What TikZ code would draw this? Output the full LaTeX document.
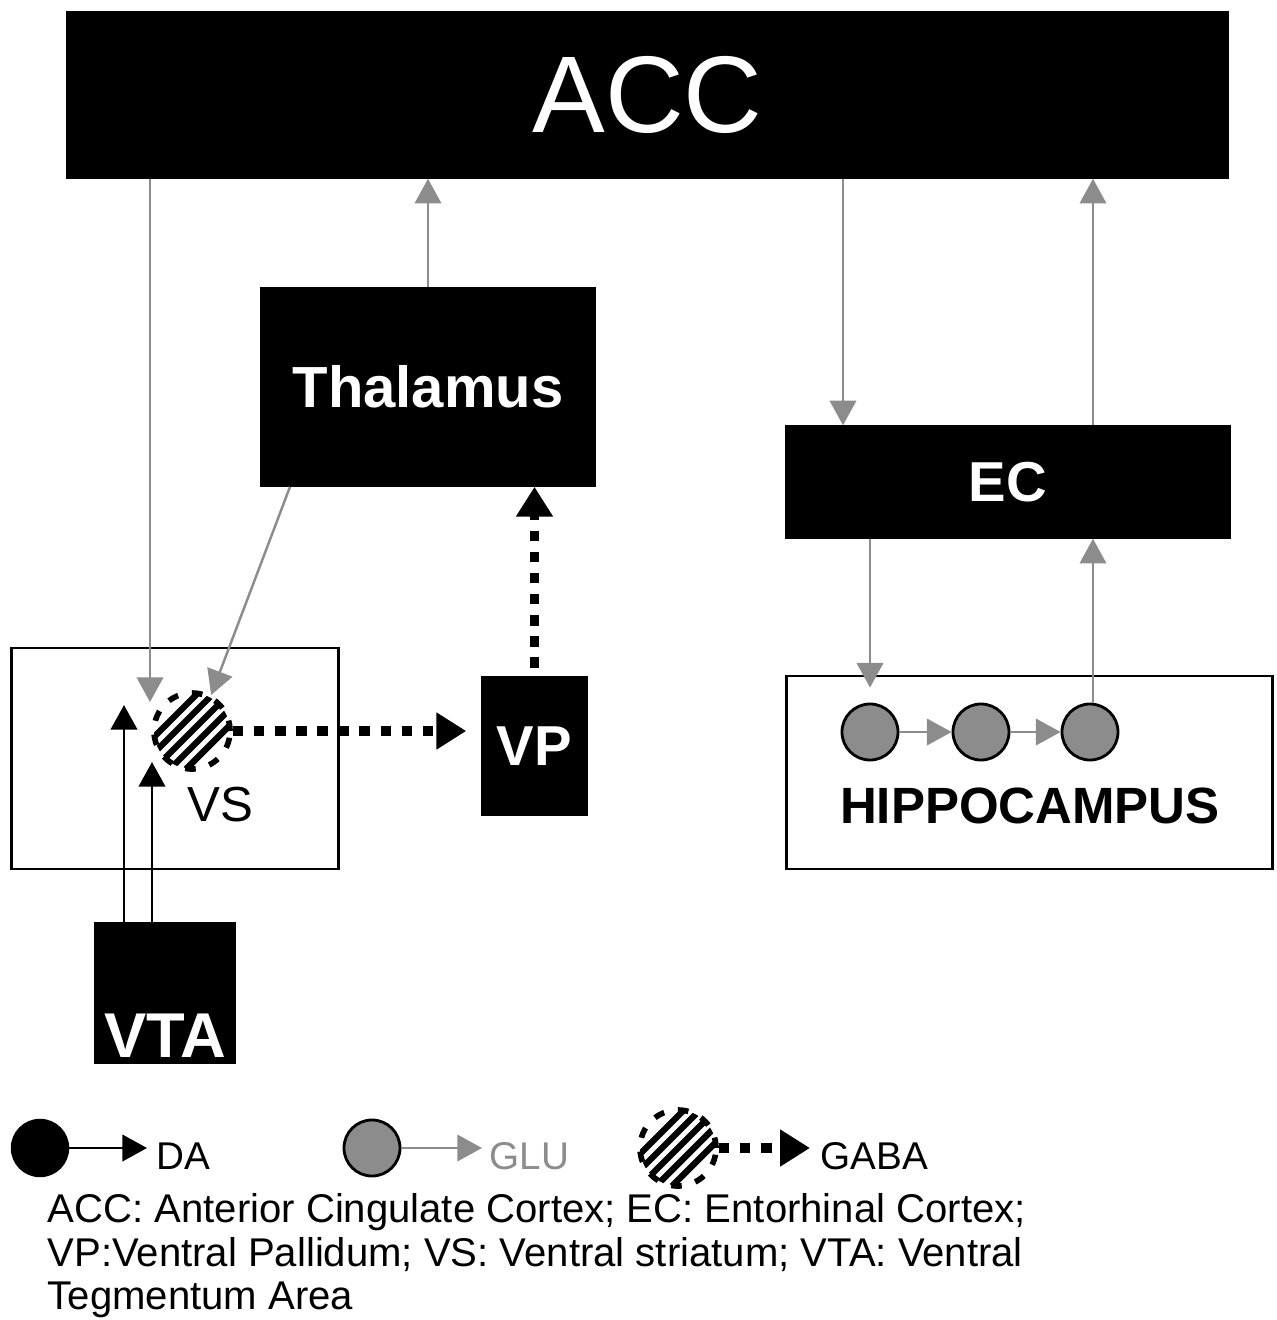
\documentclass[tikz,border=0pt]{standalone}
\usepackage{fontspec}
\setmainfont{Liberation Sans}
\usetikzlibrary{arrows.meta}
\definecolor{glugray}{RGB}{140,140,140}

\begin{document}
\begin{tikzpicture}[x=0.01cm,y=-0.01cm,
    blk/.style={draw,fill=black,text=white,inner sep=0pt},
    wbox/.style={draw,line width=0.8pt,fill=white,inner sep=0pt},
    glu/.style={glugray,line width=0.7pt,-{Triangle[width=7.5pt,length=7pt]}},
    da/.style={black,line width=0.8pt,-{Triangle[width=7.5pt,length=7pt]}},
    gaba/.style={black,line width=2.8pt,dash pattern=on 3pt off 3pt,-{Triangle[width=10pt,length=8.5pt]}},
    glucell/.style={circle,draw,line width=0.8pt,fill=glugray,minimum size=0.56cm,inner sep=0pt},
    dacell/.style={circle,draw,fill=black,minimum size=0.57cm,inner sep=0pt},
    gabacell/.style={circle,draw,line width=1.6pt,dash pattern=on 3pt off 4pt,minimum size=0.76cm,inner sep=0pt,
      path picture={\foreach \k in {-2,...,2}{\draw[solid,line width=1.8pt] ([xshift=\k*0.16cm]path picture bounding box.south west) -- ([xshift=\k*0.16cm]path picture bounding box.north east);}}}]
    \useasboundingbox (0,0) rectangle (1277,1320);

    % boxes
    \node[blk,minimum width=11.61cm,minimum height=1.66cm,font=\fontsize{31}{36}\selectfont] (acc) at (647.5,95) {ACC};
    \node[blk,minimum width=3.34cm,minimum height=1.98cm,font=\bfseries\fontsize{16.5}{20}\selectfont] (thal) at (428,387) {Thalamus};
    \node[blk,minimum width=4.44cm,minimum height=1.12cm,font=\bfseries\fontsize{16}{20}\selectfont] (ec) at (1008,482) {EC};
    \node[wbox,minimum width=3.26cm,minimum height=2.21cm] (vsbox) at (175,758.5) {};
    \node[blk,minimum width=1.05cm,minimum height=1.39cm,font=\bfseries\fontsize{16}{20}\selectfont] (vp) at (534.5,746) {VP};
    \node[blk,minimum width=1.40cm,minimum height=1.40cm] (vta) at (165,993) {};
    \node[text=white,font=\bfseries\fontsize{18}{20}\selectfont] (vtalab) at (165,1036) {VTA};
    \node[wbox,minimum width=4.85cm,minimum height=1.93cm] (hipbox) at (1029.5,772.5) {};

    % cells
    \node[gabacell] (vs) at (192,731) {};
    \node[font=\fontsize{14}{16}\selectfont] (vslab) at (220,805) {VS};
    \foreach \i/\x in {1/870,2/981,3/1090}{\node[glucell] (h\i) at (\x,732) {};}
    \node[font=\bfseries\fontsize{14.5}{16}\selectfont] (hiplab) at (1030,806) {HIPPOCAMPUS};

    % glutamate
    \coordinate (accin) at (150,702);
    \draw[glu] (acc.south -| accin) -- (accin);
    \draw[glu] (thal.south -| 290,0) -- (vs.62);
    \draw[glu] (thal.north) -- (thal.north |- acc.south);
    \draw[glu] (acc.south -| 843,0) -- (ec.north -| 843,0);
    \draw[glu] (ec.north -| 1093,0) -- (acc.south -| 1093,0);
    \draw[glu,shorten >=0.15cm] (ec.south -| h1) -- (h1.north);
    \draw[glu] (h3.north -| 1093,0) -- (ec.south -| 1093,0);
    \draw[glu] (h1) -- (h2);
    \draw[glu] (h2) -- (h3);

    % dopamine
    \coordinate (dain1) at (124,705);
    \coordinate (dain2) at (152,762);
    \draw[da] (vta.north -| dain1) -- (dain1);
    \draw[da] (vta.north -| dain2) -- (dain2);

    % gaba
    \draw[gaba,shorten >=0.15cm] (vs.east) -- (vs.east -| vp.west);
    \draw[gaba] ([yshift=0.08cm]vp.north) -- (vp.north |- thal.south);

    % legend
    \node[dacell] (ldacell) at (40,1148) {};
    \coordinate (ldaend) at (147,1148);
    \draw[da] (ldacell) -- (ldaend);
    \node[anchor=west,inner sep=0pt,font=\fontsize{11}{13}\selectfont] (ldalab) at (156,1156) {DA};
    \node[glucell] (lglucell) at (372,1148) {};
    \coordinate (lgluend) at (482,1148);
    \draw[glu] (lglucell) -- (lgluend);
    \node[anchor=west,inner sep=0pt,text=glugray,font=\fontsize{11}{13}\selectfont] (lglulab) at (489,1156) {GLU};
    \node[gabacell] (lgabacell) at (678,1148) {};
    \coordinate (lgabaend) at (810,1148);
    \draw[gaba] (lgabacell) -- (lgabaend);
    \node[anchor=west,inner sep=0pt,font=\fontsize{11}{13}\selectfont] (lgabalab) at (820,1156) {GABA};

    \node[anchor=north west,inner sep=0pt,align=left,font=\fontsize{11.4}{12.3}\selectfont] (abbr) at (47,1193)
      {ACC: Anterior Cingulate Cortex; EC: Entorhinal Cortex;\\
       VP:Ventral Pallidum; VS: Ventral striatum; VTA: Ventral\\
       Tegmentum Area};
\end{tikzpicture}
\end{document}
